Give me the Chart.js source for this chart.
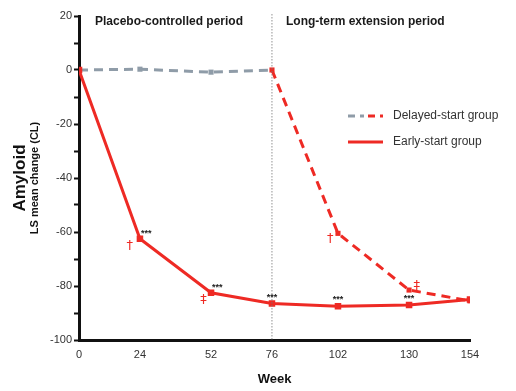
<!DOCTYPE html>
<html>
<head>
<meta charset="utf-8">
<script src="https://cdn.jsdelivr.net/npm/chart.js@4.4.0/dist/chart.umd.min.js"></script>
<style>
  html, body { margin: 0; padding: 0; background: #fff; }
  #wrap { width: 516px; height: 391px; }
</style>
</head>
<body>
<div id="wrap"><canvas id="amyloidChart" width="516" height="391"></canvas></div>
<script>
// data
const weeks = [0, 24, 52, 76, 102, 130, 154];
const earlyStart = [0, -62.5, -82.5, -86.5, -87.5, -87, -85];
const delayedStart = [0, 0.3, -0.8, 0, -60.5, -81.5, -85.5];
const yTickValues = [20, 0, -20, -40, -60, -80, -100];
const switchWeek = 76;
const periodLabels = ["Placebo-controlled period", "Long-term extension period"];
const seriesNames = ["Delayed-start group", "Early-start group"];

// significance marks: [week, value, text]
const starMarks = [[24, -62.5, "***"], [52, -82.5, "***"], [76, -86.5, "***"], [102, -87.5, "***"], [130, -87, "***"]];
const daggerMarks = [[20, -65, "†"], [49, -85, "‡"], [99, -62.5, "†"], [133, -80, "‡"]];

const RED = "#ee2a24";
const GREY = "#8f9ca8";
const delayedColors = weeks.map((w) => (w < switchWeek ? GREY : RED));

const overlay = {
  id: "overlay",
  afterDraw(chart) {
    const ctx = chart.ctx;
    const xs = chart.scales.x, ys = chart.scales.y;
    const area = chart.chartArea;
    ctx.save();

    // dotted line at switch
    const sx = xs.getPixelForValue(switchWeek);
    ctx.strokeStyle = "#777";
    ctx.lineWidth = 0.8;
    ctx.setLineDash([1.5, 1.5]);
    ctx.beginPath();
    ctx.moveTo(sx, 14);
    ctx.lineTo(sx, area.bottom);
    ctx.stroke();
    ctx.setLineDash([]);

    // period labels
    ctx.fillStyle = "#1a1a1a";
    ctx.font = "bold 12px 'Liberation Sans', Arial, sans-serif";
    ctx.textBaseline = "alphabetic";
    ctx.textAlign = "left";
    ctx.fillText(periodLabels[0], 95, 25);
    ctx.fillText(periodLabels[1], 286, 25);

    // star marks
    ctx.font = "bold 9px 'Liberation Sans', Arial, sans-serif";
    ctx.fillStyle = "#222";
    starMarks.forEach(([w, v, t], i) => {
      const px = xs.getPixelForValue(w), py = ys.getPixelForValue(v);
      if (i < 2) { ctx.textAlign = "left"; ctx.fillText(t, px + 1, py - 3); }
      else { ctx.textAlign = "center"; ctx.fillText(t, px, py - 4); }
    });

    // daggers
    ctx.font = "13px 'DejaVu Sans', sans-serif";
    ctx.fillStyle = RED;
    ctx.textAlign = "center";
    ctx.textBaseline = "middle";
    daggerMarks.forEach(([w, v, t]) => {
      ctx.fillText(t, xs.getPixelForValue(w), ys.getPixelForValue(v));
    });

    // legend
    ctx.lineWidth = 3;
    ctx.setLineDash([7, 5]);
    ctx.strokeStyle = GREY;
    ctx.beginPath(); ctx.moveTo(348, 116); ctx.lineTo(364, 116); ctx.stroke();
    ctx.lineDashOffset = -16;
    ctx.strokeStyle = RED;
    ctx.beginPath(); ctx.moveTo(364, 116); ctx.lineTo(383, 116); ctx.stroke();
    ctx.setLineDash([]);
    ctx.beginPath(); ctx.moveTo(348, 142); ctx.lineTo(383, 142); ctx.stroke();
    ctx.fillStyle = "#333";
    ctx.font = "12px 'Liberation Sans', Arial, sans-serif";
    ctx.textAlign = "left";
    ctx.fillText(seriesNames[0], 393, 116);
    ctx.fillText(seriesNames[1], 393, 142);

    // y axis title
    ctx.translate(20, 178);
    ctx.rotate(-Math.PI / 2);
    ctx.fillStyle = "#111";
    ctx.textAlign = "center";
    ctx.font = "bold 17px 'Liberation Sans', Arial, sans-serif";
    ctx.fillText("Amyloid", 0, 0);
    ctx.font = "bold 11px 'Liberation Sans', Arial, sans-serif";
    ctx.fillText("LS mean change (CL)", 0, 15);
    ctx.restore();
  }
};

new Chart(document.getElementById("amyloidChart"), {
  type: "line",
  data: {
    datasets: [
      {
        label: seriesNames[1],
        data: weeks.map((w, i) => ({ x: w, y: earlyStart[i] })),
        borderColor: RED,
        backgroundColor: RED,
        borderWidth: 3,
        pointStyle: "rect",
        pointRadius: 2.5,
        tension: 0
      },
      {
        label: seriesNames[0],
        data: weeks.map((w, i) => ({ x: w, y: delayedStart[i] })),
        borderColor: RED,
        pointBackgroundColor: delayedColors,
        pointBorderColor: delayedColors,
        borderWidth: 3,
        borderDash: [9, 6],
        pointStyle: "rect",
        pointRadius: 1.5,
        segment: {
          borderColor: (c) => (c.p1.parsed.x <= switchWeek ? GREY : RED)
        }
      }
    ]
  },
  options: {
    responsive: false,
    animation: false,
    layout: { padding: { top: 16, right: 46, left: 0, bottom: 0 } },
    plugins: { legend: { display: false }, tooltip: { enabled: false } },
    scales: {
      x: {
        type: "linear",
        min: 0,
        max: 154,
        afterBuildTicks: (s) => { s.ticks = weeks.map((v) => ({ value: v })); },
        afterFit: (s) => { s.height = 51; },
        border: { color: "#111", width: 3 },
        grid: { display: false, drawOnChartArea: false, drawTicks: true, tickLength: 5, tickColor: "#111", tickWidth: 2 },
        ticks: { color: "#333", font: { size: 11, family: "'Liberation Sans', Arial, sans-serif" }, padding: 3 },
        title: { display: true, text: "Week", color: "#111", font: { size: 13, weight: "bold", family: "'Liberation Sans', Arial, sans-serif" }, padding: { top: 4 } }
      },
      y: {
        min: -100,
        max: 20,
        afterBuildTicks: (s) => {
          const t = [];
          for (let v = 20; v >= -100; v -= 10) t.push({ value: v });
          s.ticks = t;
        },
        afterFit: (s) => { s.width = 79; },
        border: { color: "#111", width: 3 },
        grid: { display: true, drawOnChartArea: false, tickLength: 5, tickColor: "#111", tickWidth: 2 },
        ticks: {
          color: "#333",
          font: { size: 11, family: "'Liberation Sans', Arial, sans-serif" },
          padding: 2,
          callback: (v) => (yTickValues.includes(v) ? String(v) : "")
        }
      }
    }
  },
  plugins: [overlay]
});
</script>
</body>
</html>
